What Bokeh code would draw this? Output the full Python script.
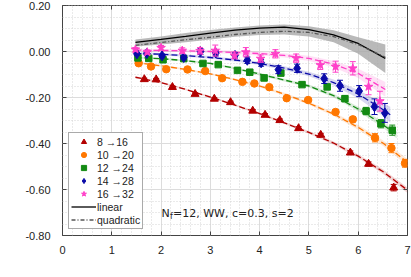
import math
from bokeh.plotting import figure
from bokeh.models import (Range1d, FixedTicker, PrintfTickFormatter, LinearAxis,
                          Legend, LegendItem, Label)
from bokeh.embed import file_html
from bokeh.resources import INLINE

# ---------------- data ----------------
labels = ["8 →16", "10 →20", "12 →24", "14 →28", "16 →32"]

x_8 = [1.66, 1.90, 2.23, 2.69, 3.08, 3.41, 3.86, 4.11, 4.41, 4.79, 5.24, 5.84, 6.21, 6.72]
y_8 = [-0.121, -0.122, -0.155, -0.185, -0.206, -0.221, -0.258, -0.276, -0.299, -0.334, -0.363, -0.440, -0.489, -0.592]
e_8 = [0.005, 0.005, 0.005, 0.005, 0.005, 0.005, 0.006, 0.006, 0.006, 0.007, 0.007, 0.008, 0.009, 0.014]

x_10 = [1.545, 1.796, 2.105, 2.536, 2.895, 3.239, 3.650, 3.893, 4.196, 4.549, 4.984, 5.540, 5.891, 6.340, 6.674, 6.949]
y_10 = [-0.051, -0.065, -0.077, -0.078, -0.085, -0.116, -0.132, -0.139, -0.155, -0.203, -0.211, -0.263, -0.295, -0.375, -0.420, -0.486]
e_10 = [0.004, 0.004, 0.004, 0.004, 0.005, 0.005, 0.005, 0.005, 0.006, 0.007, 0.008, 0.009, 0.012, 0.018, 0.020, 0.017]

x_12 = [1.53, 1.75, 2.04, 2.46, 2.85, 3.16, 3.55, 3.80, 4.09, 4.43, 4.86, 5.37, 5.73, 6.16, 6.46, 6.69]
y_12 = [-0.028, -0.030, -0.036, -0.031, -0.052, -0.057, -0.082, -0.090, -0.115, -0.094, -0.144, -0.154, -0.205, -0.259, -0.314, -0.342]
e_12 = [0.004, 0.004, 0.005, 0.005, 0.005, 0.005, 0.006, 0.006, 0.007, 0.008, 0.009, 0.011, 0.013, 0.016, 0.018, 0.022]

x_14 = [1.51, 1.71, 2.02, 2.46, 2.80, 3.11, 3.50, 3.75, 4.03, 4.38, 4.76, 5.31, 5.63, 6.02, 6.33, 6.54]
y_14 = [-0.010, -0.009, -0.019, -0.026, 0.000, -0.007, -0.017, -0.038, -0.049, -0.079, -0.073, -0.118, -0.149, -0.172, -0.240, -0.267]
e_14 = [0.006, 0.006, 0.008, 0.010, 0.012, 0.012, 0.012, 0.014, 0.015, 0.017, 0.018, 0.021, 0.024, 0.024, 0.034, 0.041]

x_16 = [1.48, 1.72, 2.00, 2.43, 2.79, 3.10, 3.49, 3.72, 4.02, 4.32, 4.74, 5.23, 5.54, 5.89, 6.21, 6.44]
y_16 = [0.009, -0.003, 0.016, 0.004, 0.003, 0.004, -0.017, -0.003, -0.031, -0.010, -0.029, -0.059, -0.066, -0.073, -0.153, -0.216]
e_16 = [0.008, 0.008, 0.010, 0.012, 0.014, 0.024, 0.015, 0.020, 0.016, 0.018, 0.018, 0.019, 0.024, 0.029, 0.035, 0.043]

# fit curves with band half-widths
fx_8 = [1.48, 2.0, 2.5, 3.0, 3.5, 4.0, 4.5, 5.0, 5.5, 6.0, 6.5, 7.0]
fy_8 = [-0.112, -0.135, -0.165, -0.198, -0.233, -0.270, -0.310, -0.352, -0.398, -0.455, -0.522, -0.603]
fb_8 = [0.004, 0.004, 0.004, 0.004, 0.004, 0.005, 0.005, 0.006, 0.007, 0.008, 0.010, 0.012]

fx_10 = [1.48, 2.0, 2.5, 3.0, 3.5, 4.0, 4.5, 5.0, 5.5, 6.0, 6.5, 7.0]
fy_10 = [-0.048, -0.062, -0.078, -0.097, -0.122, -0.150, -0.185, -0.225, -0.272, -0.330, -0.398, -0.482]
fb_10 = [0.004, 0.004, 0.004, 0.004, 0.005, 0.005, 0.006, 0.007, 0.008, 0.010, 0.012, 0.015]

fx_12 = [1.48, 2.0, 2.5, 3.0, 3.5, 4.0, 4.5, 5.0, 5.5, 6.0, 6.5, 6.78]
fy_12 = [-0.026, -0.031, -0.040, -0.052, -0.073, -0.098, -0.124, -0.150, -0.192, -0.250, -0.318, -0.362]
fb_12 = [0.004, 0.004, 0.004, 0.005, 0.005, 0.006, 0.006, 0.007, 0.008, 0.010, 0.013, 0.015]

fx_14 = [1.48, 2.0, 2.5, 3.0, 3.5, 4.0, 4.5, 5.0, 5.5, 6.0, 6.5, 6.65]
fy_14 = [-0.008, -0.012, -0.018, -0.026, -0.037, -0.052, -0.072, -0.098, -0.135, -0.185, -0.252, -0.275]
fb_14 = [0.005, 0.005, 0.005, 0.006, 0.006, 0.007, 0.008, 0.010, 0.013, 0.018, 0.028, 0.035]

fx_16 = [1.48, 2.0, 2.5, 3.0, 3.5, 4.0, 4.5, 5.0, 5.5, 6.0, 6.55]
fy_16 = [0.006, 0.005, 0.003, 0.000, -0.004, -0.009, -0.017, -0.030, -0.055, -0.095, -0.165]
fb_16 = [0.006, 0.006, 0.006, 0.006, 0.007, 0.008, 0.009, 0.011, 0.014, 0.020, 0.032]

# continuum extrapolations
cx = [1.48, 2.0, 2.5, 3.0, 3.5, 4.0, 4.5, 5.0, 5.5, 6.0, 6.55]
lin_y = [0.040, 0.053, 0.066, 0.080, 0.093, 0.102, 0.106, 0.095, 0.072, 0.035, -0.030]
quad_y = [0.027, 0.039, 0.051, 0.062, 0.074, 0.083, 0.088, 0.083, 0.065, 0.030, -0.025]
band_hi = [0.052, 0.065, 0.080, 0.093, 0.104, 0.113, 0.117, 0.110, 0.092, 0.062, 0.030]
band_lo = [0.022, 0.030, 0.040, 0.052, 0.064, 0.072, 0.074, 0.065, 0.040, -0.010, -0.093]

x_ticks = [0, 1, 2, 3, 4, 5, 6, 7]
y_ticks = [-0.8, -0.6, -0.4, -0.2, 0.0, 0.2]

# ---------------- style ----------------
FONT = "Liberation Sans"
FONT2 = "DejaVu Sans"
TXT = "#222222"
colors = ["#b30000", "#ff7700", "#138a13", "#0a0aa8", "#ff3fc8"]
markers = ["triangle", "circle", "square", "diamond", "star"]
msizes = [8, 7.5, 6.5, 10, 9]

p = figure(width=411, height=277, x_range=Range1d(0, 7), y_range=Range1d(-0.8, 0.2),
           output_backend="svg", toolbar_location=None,
           min_border_left=62, min_border_right=3, min_border_top=5, min_border_bottom=42)
p.styles = {"margin": "0px -8px -8px 0px"}
p.background_fill_color = "white"
p.border_fill_color = "white"
p.outline_line_color = "#444444"
p.outline_line_width = 1

x_minor = [i * 0.2 for i in range(36)]
y_minor = [-0.8 + i * 0.05 for i in range(21)]
xt = FixedTicker(ticks=x_ticks, minor_ticks=x_minor)
yt = FixedTicker(ticks=y_ticks, minor_ticks=y_minor)

for ax, t in ((p.xaxis[0], xt), (p.yaxis[0], yt)):
    ax.ticker = t
    ax.axis_line_color = None
    ax.major_tick_in = 4
    ax.major_tick_out = 0
    ax.major_tick_line_color = "#444444"
    ax.minor_tick_line_color = None
    ax.major_label_text_font = FONT
    ax.major_label_text_font_size = "11px"
    ax.major_label_text_color = TXT
p.yaxis[0].formatter = PrintfTickFormatter(format="%.2f")
p.yaxis[0].major_label_standoff = 8
p.xaxis[0].major_label_standoff = 6

for loc, t, tk in (("above", xt, x_ticks), ("right", yt, y_ticks)):
    a = LinearAxis(ticker=t, axis_line_color=None, major_tick_in=4, major_tick_out=0,
                   major_tick_line_color="#444444", minor_tick_line_color=None,
                   major_label_standoff=0,
                   major_label_overrides={v: "" for v in tk})
    p.add_layout(a, loc)

for g in (p.xgrid[0], p.ygrid[0]):
    g.grid_line_color = "#dcdcdc"
    g.grid_line_width = 1
    g.minor_grid_line_color = "#d4d4d4"
    g.minor_grid_line_dash = "1 2"
    g.minor_grid_line_width = 1
p.xgrid[0].ticker = xt
p.ygrid[0].ticker = yt

# ---------------- glyphs ----------------
series = [(x_8, y_8, e_8, fx_8, fy_8, fb_8), (x_10, y_10, e_10, fx_10, fy_10, fb_10),
          (x_12, y_12, e_12, fx_12, fy_12, fb_12), (x_14, y_14, e_14, fx_14, fy_14, fb_14),
          (x_16, y_16, e_16, fx_16, fy_16, fb_16)]

for (xs, ys, es, fx, fy, fb), c in zip(series, colors):
    p.varea(x=fx, y1=[a - b for a, b in zip(fy, fb)], y2=[a + b for a, b in zip(fy, fb)],
            fill_color=c, fill_alpha=0.16)
p.varea(x=cx, y1=band_lo, y2=band_hi, fill_color="#a8a8a8", fill_alpha=0.8)

for (xs, ys, es, fx, fy, fb), c in zip(series, colors):
    p.line(fx, fy, line_color=c, line_width=1.3, line_dash="6 3")

lin_r = p.line(cx, lin_y, line_color="#000000", line_width=1.3)
quad_r = p.line(cx, quad_y, line_color="#555555", line_width=1.3, line_dash="4 2 1 2")

pt_renderers = []
for (xs, ys, es, fx, fy, fb), c, m, s in zip(series, colors, markers, msizes):
    lo = [a - b for a, b in zip(ys, es)]
    hi = [a + b for a, b in zip(ys, es)]
    p.segment(x0=xs, y0=lo, x1=xs, y1=hi, line_color=c, line_width=1)
    p.scatter(xs + xs, lo + hi, marker="dash", size=6, line_color=c, line_width=1)
    r = p.scatter(xs, ys, marker=m, size=s, fill_color=c, line_color=c)
    pt_renderers.append(r)

# ---------------- legend ----------------
items = [LegendItem(label=l, renderers=[r]) for l, r in zip(labels, pt_renderers)]
items.append(LegendItem(label="linear", renderers=[lin_r]))
items.append(LegendItem(label="quadratic", renderers=[quad_r]))
leg = Legend(items=items, location=(6, 6), label_text_font=FONT, label_text_font_size="10.5px",
             label_text_color=TXT, glyph_width=25, glyph_height=13, spacing=0, padding=2,
             margin=0, label_standoff=1, label_height=12, label_width=10,
             border_line_color="#555555",
             border_line_width=1, background_fill_color="white", background_fill_alpha=1)
p.add_layout(leg)

# ---------------- texts ----------------
def lab(text, x, y, size, angle=0.0, style="normal", font=FONT):
    p.add_layout(Label(x=x, y=y, x_units="screen", y_units="screen", text=text,
                       text_font=font, text_font_size=f"{size}px", text_color=TXT,
                       text_baseline="alphabetic", text_align="left", angle=angle,
                       text_font_style=style))

# annotation  N_f=12, WW, c=0.3, s=2
lab("N", 99, 22, 11, font=FONT2)
lab("f", 107.5, 19, 8, font=FONT2)
lab("=12, WW, c=0.3, s=2", 110.5, 22, 11, font=FONT2)

# x label g_c^2
lab("g", 166, -33, 13)
lab("2", 173.5, -26, 9)
lab("c", 173.5, -35.5, 9)

# y label beta_{c,s}(g_c^2), rotated
A = math.pi / 2
lab("β", -45, 89, 13, A, "italic")
lab("c,s", -41.5, 97, 9, A)
lab("(g", -45, 108, 13, A)
lab("2", -50.5, 120, 9, A)
lab("c", -41.5, 120, 9, A)
lab(")", -45, 126, 13, A)

open("out.html", "w").write(file_html(p, INLINE))
